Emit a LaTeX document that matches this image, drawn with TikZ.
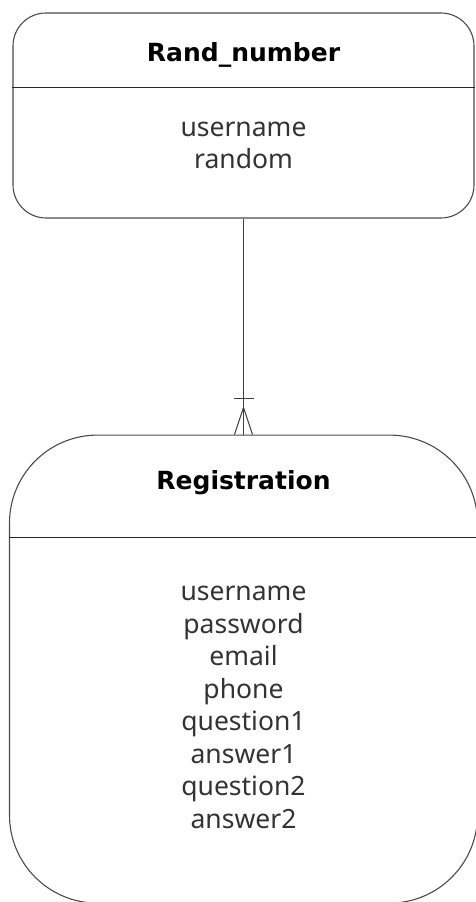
\documentclass[tikz,border=0pt]{standalone}
\usepackage{fontspec}
\setmainfont{Noto Sans}
\newfontfamily\titlefont{DejaVu Sans Bold}
\usepackage{tikz}
\usetikzlibrary{positioning}

\tikzset{
	entity/.style={draw=black!70, line width=1.1pt, fill=white, inner sep=0pt},
	divider/.style={draw=black!85, line width=1.4pt},
	title/.style={font=\fontsize{25}{30}\selectfont\titlefont, text=black},
	attr/.style={font=\fontsize{26.5}{32.5}\selectfont, text=black!80, align=center},
	rel/.style={draw=black!75, line width=1pt}
}

\begin{document}
\begin{tikzpicture}[x=1pt, y=1pt]
		\useasboundingbox (0,0) rectangle (476,902);

		% Define nodes
		\node[entity, minimum width=461pt, minimum height=205pt, rounded corners=33pt] (rand) at (243.5,786.5) {};
		\node[entity, below=216pt of rand, minimum width=468pt, minimum height=468pt, rounded corners=88pt] (reg) {};

		\node[title, yshift=-43pt] (randT) at (rand.north) {Rand\_number};
		\node[attr, yshift=-133pt] (randA) at (rand.north) {username\\random};

		\node[title, yshift=-48pt] (regT) at (reg.north) {Registration};
		\node[attr, yshift=-273pt] (regA) at (reg.north) {username\\password\\email\\phone\\question1\\answer1\\question2\\answer2};

		% Dividers
		\coordinate (randD) at ([yshift=-75pt]rand.north);
		\coordinate (regD) at ([yshift=-103pt]reg.north);
		\draw[divider] (rand.west |- randD) -- (rand.east |- randD);
		\draw[divider] (reg.west |- regD) -- (reg.east |- regD);

		% Connect the nodes
		\draw[rel] (rand) -- (reg);
		\draw[rel] ([xshift=-10pt, yshift=36pt]reg.north) -- ([xshift=10pt, yshift=36pt]reg.north);
		\draw[rel] ([xshift=-9pt]reg.north) -- ([yshift=27pt]reg.north) -- ([xshift=9pt]reg.north);

	\end{tikzpicture}
\end{document}
